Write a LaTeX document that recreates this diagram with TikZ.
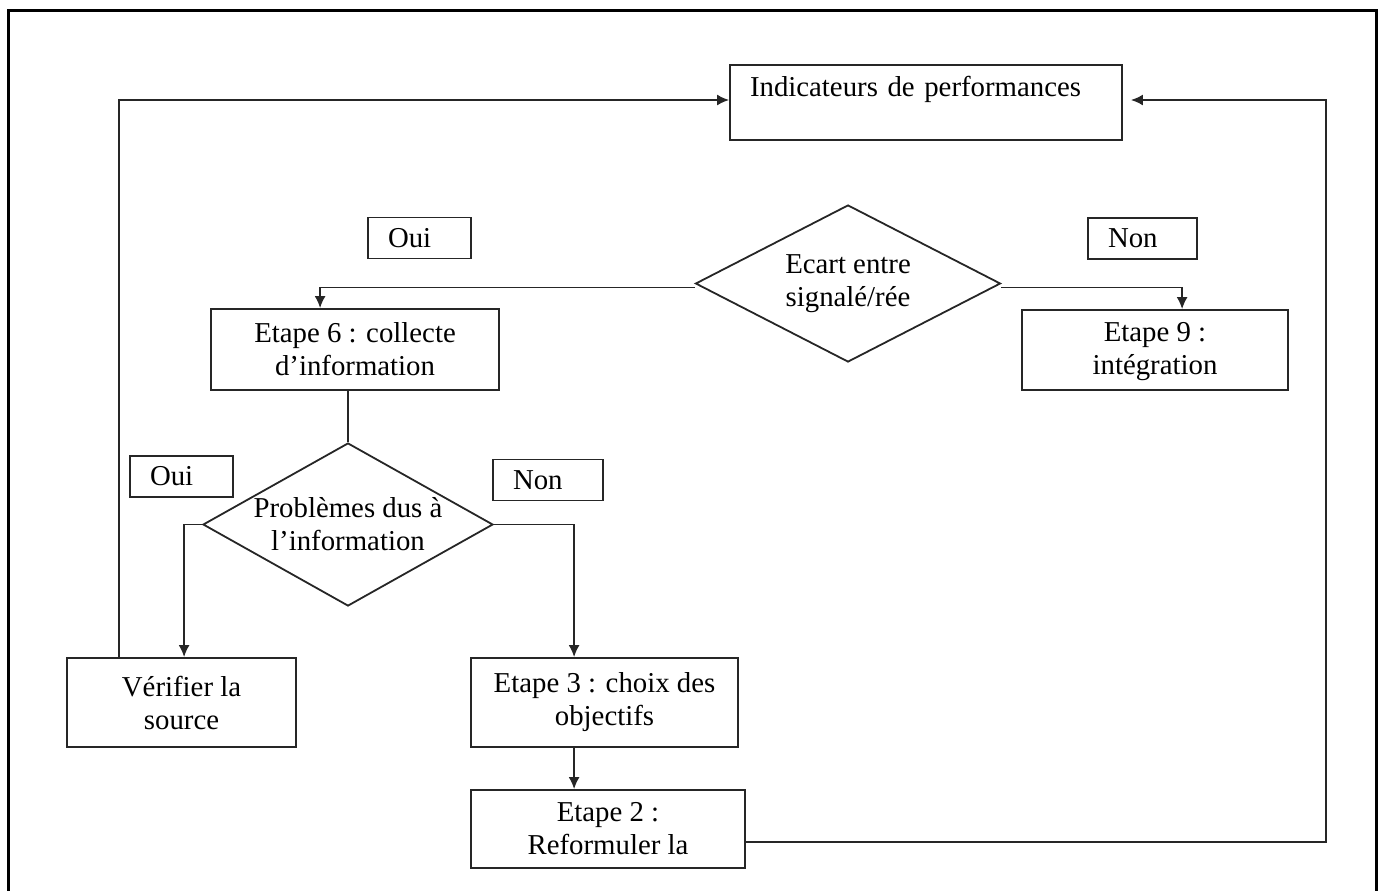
\documentclass[tikz,border=0pt]{standalone}
\usepackage{fontspec}
\setmainfont{Liberation Serif}
\usetikzlibrary{shapes.geometric,arrows.meta}
\begin{document}
\begin{tikzpicture}[x=0.5pt,y=-0.5pt,
  every node/.style={font=\fontsize{14.4}{16.5}\selectfont},
  box/.style={draw=black!85, line width=0.9pt, inner sep=0pt, align=center},
  tag/.style={draw=black!85, line width=0.9pt, minimum height=20.5pt, inner xsep=10pt, inner ysep=0pt, align=left},
  dia/.style={draw=black!85, line width=0.9pt, shape=diamond, inner sep=0pt},
  conn/.style={draw=black!85, line width=0.9pt},
  arr/.style={conn, -{Latex[length=6pt,width=5.5pt]}}
]
\useasboundingbox (0,0) rectangle (1380,890);
\draw[line width=1.5pt] (8,892) -- (8,10) -- (1376,10) -- (1376,892);

\node[box, minimum width=196pt, minimum height=37.5pt, text width=176pt, align=left] (ind) at (926,102.5) {Indicateurs de performances\\\mbox{}};
\node[tag, text width=31.5pt] (oui1) at (419.5,238) {Oui};
\node[tag, text width=34.5pt] (non1) at (1142.5,238.5) {Non};
\node[dia, minimum width=152.5pt, minimum height=78.5pt, label={[align=center]center:Ecart entre\\signalé/rée}] (d1) at (848,283.5) {};
\node[box, minimum width=144pt, minimum height=40.5pt] (e6) at (355,349.5) {Etape 6 : collecte\\d’information};
\node[box, minimum width=133pt, minimum height=40pt] (e9) at (1155,350) {\strut Etape 9 :\\intégration};
\node[dia, minimum width=145pt, minimum height=81.5pt, label={[align=center]center:Problèmes dus à\\l’information}] (d2) at (348,524.5) {};
\node[tag, text width=31.5pt] (oui2) at (181.5,476.5) {Oui};
\node[tag, text width=35pt] (non2) at (548,480) {Non};
\node[box, minimum width=114.5pt, minimum height=44.5pt] (ver) at (181.5,702.5) {Vérifier la\\source};
\node[box, minimum width=133.5pt, minimum height=44.5pt] (e3) at (604.5,702.5) {Etape 3 : choix des\\objectifs};
\node[box, minimum width=137pt, minimum height=39pt] (e2) at (608,829) {Etape 2 :\\Reformuler la};

\draw[arr] ([yshift=-2pt]d1.west) -| ([xshift=55pt]e6.north west);
\draw[arr] ([yshift=-2pt]d1.east) -| ([xshift=80.5pt]e9.north west);
\draw[conn] (d2.north |- e6.south) -- (d2.north);
\draw[arr] (d2.west) -| ([xshift=59pt]ver.north west);
\draw[arr] (d2.east) -| ([xshift=52pt]e3.north west);
\draw[arr] ([xshift=52pt]e3.south west) -- ([xshift=52pt]e2.north west);
\draw[arr] ([xshift=26.5pt]ver.north west) |- ([yshift=1.25pt]ind.west);
\coordinate (rc) at (1326,100);
\draw[arr] ([yshift=-6.5pt]e2.east) -| (rc) -- ([xshift=4pt,yshift=1.25pt]ind.east);
\end{tikzpicture}
\end{document}
